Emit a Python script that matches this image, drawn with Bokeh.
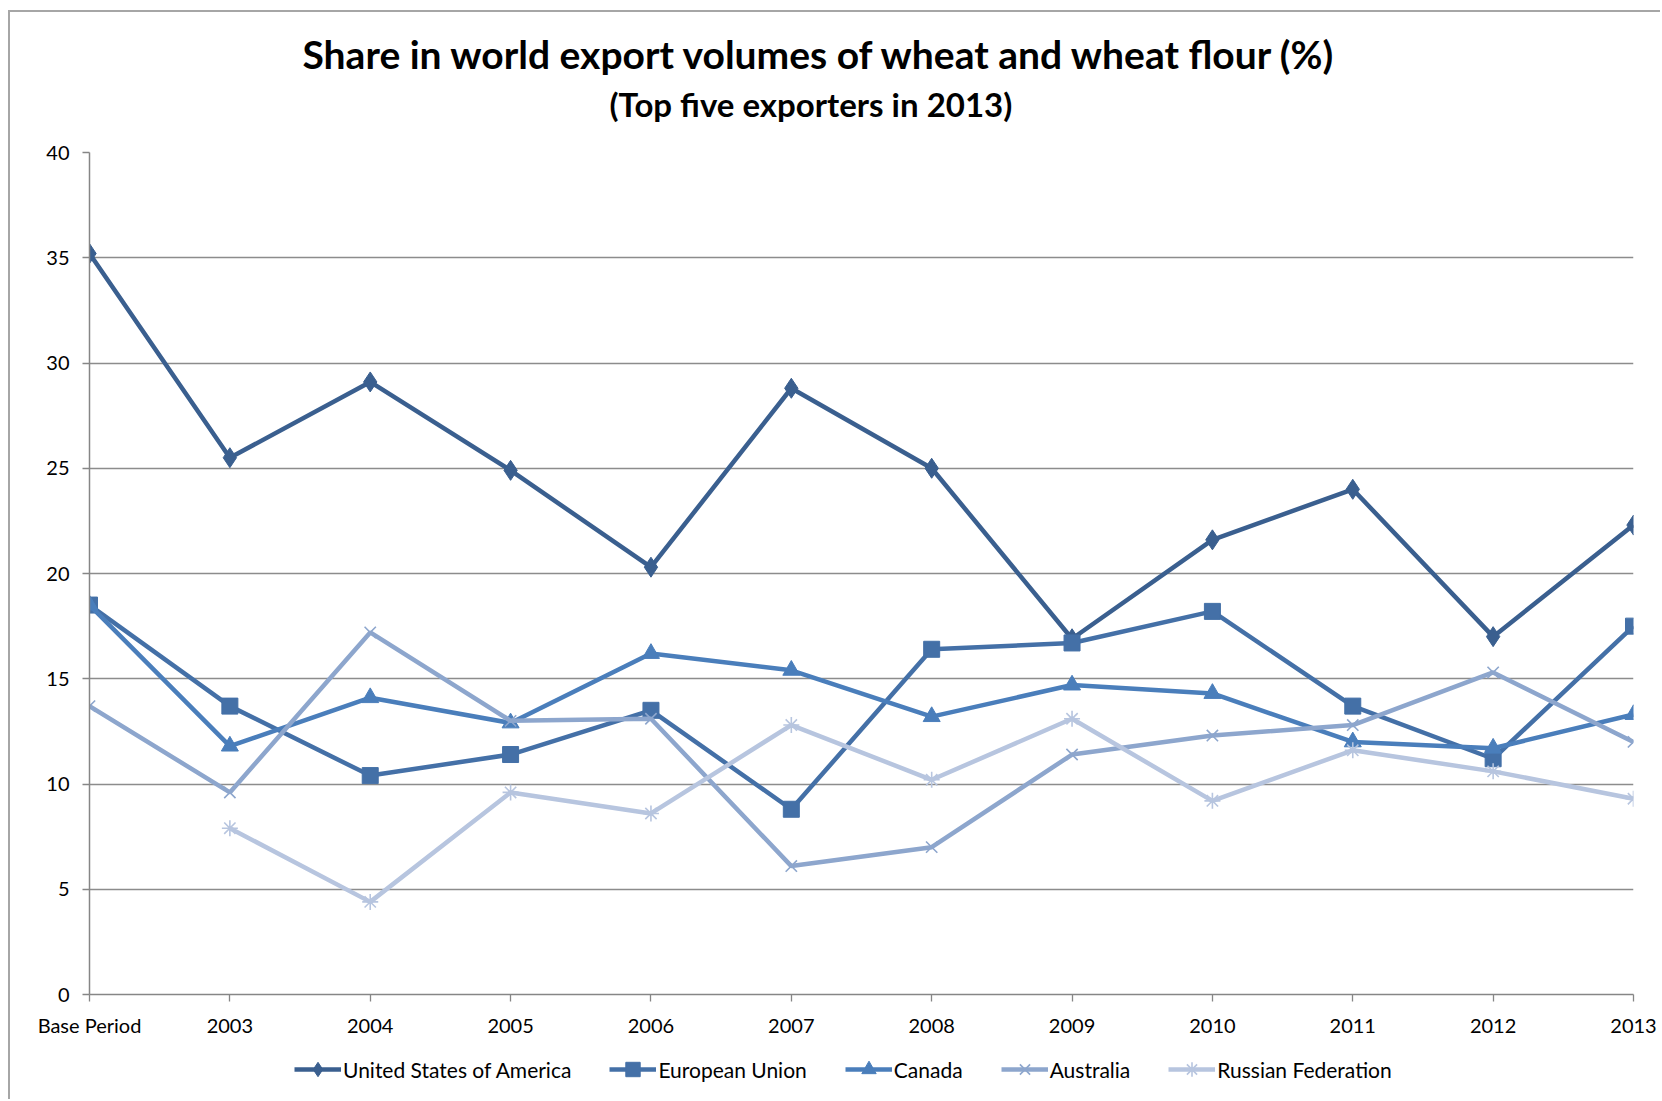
from bokeh.plotting import figure
from bokeh.models import Range1d, FixedTicker, Legend, LegendItem, Title
from bokeh.layouts import column
from bokeh.embed import file_html
from bokeh.resources import INLINE
import numpy as np

periods = ["Base Period", "2003", "2004", "2005", "2006", "2007", "2008",
           "2009", "2010", "2011", "2012", "2013"]
usa = [35.2, 25.5, 29.1, 24.9, 20.3, 28.8, 25.0, 16.9, 21.6, 24.0, 17.0, 22.3]
eu = [18.5, 13.7, 10.4, 11.4, 13.5, 8.8, 16.4, 16.7, 18.2, 13.7, 11.2, 17.5]
canada = [18.5, 11.8, 14.1, 12.9, 16.2, 15.4, 13.2, 14.7, 14.3, 12.0, 11.7, 13.3]
australia = [13.7, 9.6, 17.2, 13.0, 13.1, 6.1, 7.0, 11.4, 12.3, 12.8, 15.3, 12.0]
russia = [np.nan, 7.9, 4.4, 9.6, 8.6, 12.8, 10.2, 13.1, 9.2, 11.6, 10.6, 9.3]
y_ticks = [0, 5, 10, 15, 20, 25, 30, 35, 40]

series = [
    ("United States of America", usa, "#3A5F8F", "diamond", 20, 1),
    ("European Union", eu, "#4470A7", "square", 16, 1),
    ("Canada", canada, "#4A7EBB", "triangle", 17, 1),
    ("Australia", australia, "#8DA6CD", "x", 16, 1.6),
    ("Russian Federation", russia, "#B7C5DF", "asterisk", 16, 1.6),
]

FONT = "Lato"
W, H = 1650, 1030
p = figure(width=W, height=H, output_backend="svg", toolbar_location=None,
           x_range=Range1d(0, len(periods) - 1), y_range=Range1d(0, 40),
           min_border_left=79, min_border_right=27, min_border_top=140,
           min_border_bottom=48)
p.outline_line_color = None
p.background_fill_color = "white"
p.border_fill_color = "white"

x = list(range(len(periods)))
for name, vals, color, marker, size, mlw in series:
    p.line(x, vals, line_color=color, line_width=4.5)
    if marker in ("x", "asterisk"):
        p.scatter(x, vals, marker=marker, size=size, line_color=color,
                  line_width=mlw, fill_color=None)
    else:
        p.scatter(x, vals, marker=marker, size=size, line_color=color,
                  fill_color=color)

p.xaxis.ticker = FixedTicker(ticks=x)
p.xaxis.major_label_overrides = {i: s for i, s in enumerate(periods)}
p.yaxis.ticker = FixedTicker(ticks=y_ticks)
for ax in (p.xaxis, p.yaxis):
    ax.axis_line_color = "#868686"
    ax.axis_line_width = 1.5
    ax.major_tick_line_color = "#868686"
    ax.major_tick_line_width = 1.3
    ax.major_tick_out = 7
    ax.major_tick_in = 0
    ax.minor_tick_line_color = None
    ax.major_label_text_font = FONT
    ax.major_label_text_font_size = "20px"
    ax.major_label_text_color = "#000000"
p.xaxis.major_label_standoff = 11
p.yaxis.major_label_standoff = 13
p.xgrid.grid_line_color = None
p.ygrid.grid_line_color = "#8c8c8c"
p.ygrid.grid_line_width = 1.4

p.add_layout(Title(text="(Top five exporters in 2013)", align="left", offset=520,
                   text_font=FONT, text_font_style="bold",
                   text_font_size="33px", text_color="#000000", standoff=58), "above")
p.add_layout(Title(text="Share in world export volumes of wheat and wheat flour (%)",
                   align="left", offset=213,
                   text_font=FONT, text_font_style="bold",
                   text_font_size="39px", text_color="#000000", standoff=-48), "above")

# legend strip below the chart
LH = 57
lf = figure(width=W, height=LH, output_backend="svg", toolbar_location=None,
            x_range=Range1d(0, len(periods) - 1), y_range=Range1d(0, 40),
            min_border=0, x_axis_type=None, y_axis_type=None)
lf.outline_line_color = None
lf.grid.visible = False
lf.border_fill_color = "white"
items = []
for name, vals, color, marker, size, mlw in series:
    r1 = lf.line(x, vals, line_color=color, line_width=4.5, visible=False)
    if marker in ("x", "asterisk"):
        r2 = lf.scatter(x, vals, marker=marker, size=size, line_color=color,
                        line_width=mlw, fill_color=None, visible=False)
    else:
        r2 = lf.scatter(x, vals, marker=marker, size=size, line_color=color,
                        fill_color=color, visible=False)
    items.append(LegendItem(label=name, renderers=[r1, r2]))

legend = Legend(items=items, orientation="horizontal", location=(205, 12),
                glyph_width=47, glyph_height=36, label_standoff=2, spacing=38,
                padding=0, margin=0, border_line_color=None,
                background_fill_alpha=0, label_text_font=FONT,
                label_text_font_size="21px", label_text_color="#000000",
                label_height=20)
lf.add_layout(legend, "center")

layout = column(p, lf, spacing=0)
layout.margin = (10, 0, 0, 8)
layout.styles = {"border-left": "2px solid #a6a6a6", "border-top": "2px solid #a6a6a6"}

open("out.html", "w").write(file_html(layout, INLINE))
